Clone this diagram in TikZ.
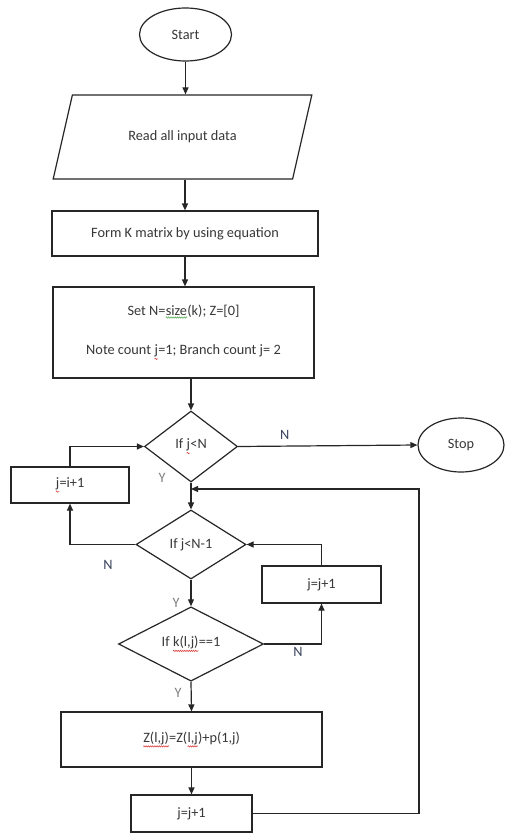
\documentclass[tikz,border=0pt]{standalone}
\usepackage{fontspec}
\setmainfont{Carlito}
\usetikzlibrary{shapes.geometric,arrows.meta,decorations.pathmorphing}
\definecolor{ink}{rgb}{0.15,0.15,0.15}
\definecolor{txt}{rgb}{0.22,0.22,0.22}
\definecolor{nlab}{rgb}{0.22,0.26,0.36}
\definecolor{ylab}{rgb}{0.5,0.5,0.5}
\definecolor{spellred}{rgb}{0.85,0.2,0.2}
\definecolor{spellgreen}{rgb}{0.3,0.65,0.3}
\newcommand\wavy[2]{\tikz[baseline=(w.base),x=1pt,y=1pt]{\node[rectangle,inner sep=0pt,outer sep=0pt,draw=none,minimum width=0pt,minimum height=0pt](w){#2};\draw[#1,line width=0.5pt,decorate,decoration={snake,amplitude=0.7pt,segment length=2.2pt}] ([yshift=-1.8pt]w.south west) -- ([yshift=-1.8pt]w.south east);}}
\begin{document}
\begin{tikzpicture}[x=1pt,y=-1pt,
  every node/.style={font=\fontsize{14.3}{17}\selectfont,text=txt},
  shp/.style={draw=ink,line width=1.2pt,inner sep=0pt},
  boxnode/.style={shp,rectangle},
  term/.style={shp,ellipse},
  dec/.style={shp,diamond},
  io/.style={shp,trapezium,trapezium left angle=52.3,trapezium right angle=127.7,trapezium stretches=true},
  arr/.style={draw=ink,line width=1.2pt,-{Triangle[length=7pt,width=6pt]}},
  ln/.style={draw=ink,line width=1.2pt},
  nl/.style={text=nlab},
  yl/.style={text=ylab}]
\useasboundingbox[fill=white] (0,0) rectangle (505,833);

\node[term,minimum width=92pt,minimum height=53pt] (start) at (185.5,34.5) {Start};
\node[io,minimum width=259pt,minimum height=84pt] (read) at (182.5,137) {Read all input data};
\node[boxnode,minimum width=266pt,minimum height=45pt] (form) at (185,233.5) {Form K matrix by using equation};
\node[boxnode,minimum width=261pt,minimum height=91pt,align=center] (set) at (183.5,332.5)
  {Set N=\wavy{spellgreen}{size}(k); Z=[0]\\[22pt]Note count \wavy{spellred}{j}=1; Branch count j= 2};
\node[dec,minimum width=93pt,minimum height=71pt] (d1) at (191,446.5) {If \wavy{spellred}{j}<N};
\node[term,minimum width=86pt,minimum height=54pt] (stop) at (461,445) {Stop};
\node[boxnode,minimum width=118pt,minimum height=36pt] (inc1) at (70,485) {\wavy{spellred}{j}=i+1};
\node[dec,minimum width=110pt,minimum height=69pt] (d2) at (191,544.5) {If j<N-1};
\node[boxnode,minimum width=119pt,minimum height=37pt] (inc2) at (321.5,584.5) {j=j+1};
\node[dec,minimum width=145pt,minimum height=68pt] (d3) at (191,644) {If \wavy{spellred}{k(l,j)}==1};
\node[boxnode,minimum width=261pt,minimum height=55pt] (upd) at (191.5,739.5) {\wavy{spellred}{Z(l,j)}=Z(\wavy{spellred}{l,j})+p(1,j)};
\node[boxnode,minimum width=121pt,minimum height=37pt] (inc3) at (191.5,813.5) {j=j+1};

\coordinate (loop) at (419,489);

\draw[arr] (start.south) -- (start.south |- read.north);
\draw[arr] (read.south -| form.north) -- (form.north);
\draw[arr] (form.south) -- (form.south |- set.north);
\draw[arr] (set.south -| d1.north) -- (d1.north);
\draw[arr] (d1.east) -- node[nl,pos=0.26,above=3pt]{N} (stop.west);
\draw[arr] (d1.south) -- (d2.north);
\draw[arr] (d2.west) -| (inc1.south);
\draw[arr] (inc1.north) |- (d1.west);
\draw[arr] (d2.south) -- (d3.north);
\draw[arr] (d3.east) -| (inc2.south);
\draw[arr] (inc2.north) |- (d2.east);
\draw[arr] (d3.south) -- (upd.north);
\draw[arr] (upd.south) -- (inc3.north);
\draw[arr] (inc3.east) -| (loop) -- (d1.south |- loop);

\node[yl] (y1) at (162,478) {Y};
\node[nl] (n2) at (108,565) {N};
\node[yl] (y2) at (176,603) {Y};
\node[nl] (n3) at (298,652) {N};
\node[yl] (y3) at (178,693) {Y};
\end{tikzpicture}
\end{document}
